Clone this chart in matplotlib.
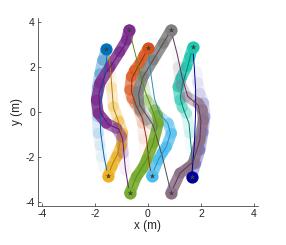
import numpy as np
import matplotlib
matplotlib.use("Agg")
import matplotlib.pyplot as plt
from matplotlib.collections import LineCollection

plt.rcParams['font.family'] = ['Liberation Sans', 'DejaVu Sans']
plt.rcParams['axes.unicode_minus'] = False

# ---- data: agent trails (thick fading) and paths (thin) ----
agent_names = ["blue", "yellow", "purple", "orange", "gray", "teal",
               "darkblue", "mauve", "green", "lightblue"]

blue_trail_x = [-1.56, -1.7, -1.81, -1.9, -1.94, -1.9, -1.87, -1.8, -1.75, -1.65]
blue_trail_y = [2.8, 2.3, 1.7, 1.1, 0.5, -0.2, -0.95, -1.5, -2.0, -2.5]
blue_path_x = [-1.5, -1.65, -1.8, -1.78, -1.65, -1.5]
blue_path_y = [2.85, 1.5, 0.3, -0.9, -2.0, -2.85]

yellow_trail_x = [-1.5, -1.35, -1.18, -1.0, -0.95, -1.1, -1.3, -1.37, -1.42, -1.45]
yellow_trail_y = [-2.83, -2.4, -1.99, -1.5, -0.95, -0.4, 0.24, 1.1, 1.7, 2.2]
yellow_path_x = [-1.5, -1.33, -1.15, -1.0, -1.1, -1.3, -1.35, -1.42, -1.5]
yellow_path_y = [-2.83, -2.3, -1.9, -1.1, -0.45, 0.2, 1.0, 2.0, 2.85]

purple_trail_x = [-0.71, -0.8, -1.06, -1.43, -1.81, -1.94, -1.87, -1.56, -1.18, -0.99, -0.93, -0.85]
purple_trail_y = [3.64, 3.2, 2.68, 2.0, 1.28, 0.53, -0.06, -0.5, -0.73, -1.1, -1.84, -2.6]
purple_path_x = [-0.71, -0.85, -1.2, -1.6, -1.85, -1.8, -1.5, -1.1, -0.95, -0.85, -0.7]
purple_path_y = [3.64, 3.0, 2.4, 1.7, 0.8, 0.0, -0.55, -0.75, -1.2, -2.5, -3.59]

orange_trail_x = [0.01, -0.15, -0.3, -0.5, -0.62, -0.68, -0.6, -0.49, -0.3, -0.2, -0.15, -0.12]
orange_trail_y = [2.83, 2.5, 2.16, 1.85, 1.57, 0.98, 0.6, 0.39, 0.0, -0.5, -1.2, -1.8]
orange_path_x = [0.01, -0.3, -0.6, -0.62, -0.45, -0.2, -0.05, 0.05, 0.14]
orange_path_y = [2.83, 2.16, 1.5, 0.9, 0.3, -0.3, -1.2, -2.3, -2.83]

gray_trail_x = [0.87, 0.58, 0.2, -0.18, -0.37, -0.35, -0.3, -0.05, 0.2, 0.4]
gray_trail_y = [3.64, 3.05, 2.31, 1.57, 0.9, 0.4, 0.09, -0.36, -0.6, -0.9]
gray_path_x = [0.87, 0.58, 0.2, -0.18, -0.35, -0.3, 0.2, 0.55, 0.87]
gray_path_y = [3.64, 3.05, 2.31, 1.57, 0.8, 0.3, -0.6, -2.0, -3.59]

teal_trail_x = [1.69, 1.58, 1.46, 1.25, 1.14, 1.21, 1.3, 1.46, 1.58, 1.62]
teal_trail_y = [2.87, 2.45, 2.01, 1.5, 1.12, 0.53, 0.2, -0.06, -0.95, -1.6]
teal_path_x = [1.69, 1.5, 1.3, 1.22, 1.35, 1.55, 1.65, 1.7]
teal_path_y = [2.87, 2.0, 1.2, 0.6, 0.1, -0.5, -1.8, -2.85]

darkblue_trail_x = [1.65, 1.8, 1.96, 2.08, 2.15, 2.1, 1.96, 1.88, 1.84]
darkblue_trail_y = [-2.87, -2.3, -1.69, -0.9, -0.21, 0.4, 0.83, 1.3, 1.8]
darkblue_path_x = [1.65, 1.75, 1.8, 1.8, 1.75, 1.69]
darkblue_path_y = [-2.87, -1.5, 0.0, 1.0, 2.0, 2.87]

mauve_trail_x = [0.87, 1.21, 1.5, 1.71, 1.96, 2.09, 2.05, 1.9, 1.46, 1.25, 1.15, 1.1]
mauve_trail_y = [-3.59, -2.72, -2.5, -2.28, -1.24, -0.36, 0.1, 0.39, 0.68, 1.2, 2.0, 2.7]
mauve_path_x = [0.87, 1.21, 1.71, 1.96, 2.0, 1.9, 1.5, 1.3, 1.1, 0.87]
mauve_path_y = [-3.59, -2.72, -2.2, -1.24, -0.4, 0.3, 0.7, 1.5, 2.6, 3.64]

green_trail_x = [-0.68, -0.43, -0.2, -0.05, 0.2, 0.39, 0.36, 0.26, -0.05, -0.18, -0.3]
green_trail_y = [-3.59, -2.87, -2.5, -2.13, -1.39, -0.5, -0.15, 0.09, 0.53, 1.27, 1.9]
green_path_x = [-0.68, -0.43, -0.05, 0.2, 0.35, 0.2, -0.1, -0.35, -0.7]
green_path_y = [-3.59, -2.87, -2.13, -1.39, -0.6, 0.0, 0.9, 2.0, 3.64]

lightblue_trail_x = [0.14, 0.39, 0.55, 0.7, 0.89, 0.77, 0.45, 0.2, 0.0]
lightblue_trail_y = [-2.83, -2.13, -1.8, -1.54, -0.95, -0.5, -0.21, 0.1, 0.6]
lightblue_path_x = [0.14, 0.39, 0.7, 0.85, 0.75, 0.45, 0.25, 0.1, 0.01]
lightblue_path_y = [-2.83, -2.13, -1.54, -0.95, -0.5, -0.1, 0.6, 1.8, 2.83]

ticks = [-4, -2, 0, 2, 4]

# ---- styles ----
styles = {
    "blue":      dict(c=(0.0, 0.447, 0.741), lc=(0.0, 0.40, 0.70), amax=0.35, hold=0.2),
    "yellow":    dict(c=(0.929, 0.694, 0.125), lc=(0.70, 0.50, 0.05), amax=0.7, hold=0.3),
    "purple":    dict(c=(0.494, 0.184, 0.556), lc=(0.38, 0.10, 0.45), amax=0.85, hold=0.6),
    "orange":    dict(c=(0.85, 0.325, 0.098), lc=(0.60, 0.18, 0.05), amax=0.7, hold=0.35),
    "gray":      dict(c=(0.5, 0.5, 0.5), lc=(0.30, 0.30, 0.30), amax=0.85, hold=0.55),
    "teal":      dict(c=(0.12, 0.78, 0.68), lc=(0.0, 0.50, 0.50), amax=0.8, hold=0.35),
    "darkblue":  dict(c=(0.0, 0.0, 0.6), lc=(0.0, 0.0, 0.55), amax=0.3, hold=0.3),
    "mauve":     dict(c=(0.55, 0.44, 0.53), lc=(0.35, 0.22, 0.35), amax=0.85, hold=0.45),
    "green":     dict(c=(0.466, 0.674, 0.188), lc=(0.35, 0.55, 0.10), amax=0.9, hold=0.5),
    "lightblue": dict(c=(0.301, 0.745, 0.933), lc=(0.15, 0.55, 0.75), amax=0.8, hold=0.4),
}

data = {n: (globals()[n + "_trail_x"], globals()[n + "_trail_y"],
            globals()[n + "_path_x"], globals()[n + "_path_y"]) for n in agent_names}

fig = plt.figure(figsize=(2.86, 2.45), dpi=100)
ax = fig.add_axes([0.132, 0.159, 0.77, 0.768])

trail_order = ["blue", "darkblue", "yellow", "purple", "orange", "teal",
               "mauve", "lightblue", "green", "gray"]
for n in trail_order:
    tx, ty, px, py = data[n]
    st = styles[n]
    pts = np.column_stack([tx, ty])
    segs = np.stack([pts[:-1], pts[1:]], axis=1)
    nseg = len(segs)
    s = (np.arange(nseg) + 0.5) / nseg
    alpha = st["amax"] * np.clip((1 - s) / (1 - st["hold"]), 0, 1) ** 1.2
    alpha = np.clip(alpha, 0.05, 1)
    cols = [(*st["c"], a) for a in alpha]
    lc = LineCollection(segs, colors=cols, linewidths=8.0, capstyle='round',
                        joinstyle='round', zorder=2)
    ax.add_collection(lc)

for n in agent_names:
    tx, ty, px, py = data[n]
    st = styles[n]
    ax.plot(px, py, color=st["lc"], lw=0.7, zorder=3)

for n in agent_names:
    tx, ty, px, py = data[n]
    st = styles[n]
    ax.plot(tx[0], ty[0], 'o', ms=8.8, color=st["c"], mec='none', zorder=4)
    ax.plot(tx[0], ty[0], '*', ms=4, color=(0.25, 0.25, 0.25), mec='none', zorder=5)

ax.set_xlim(-4.15, 4.15)
ax.set_ylim(-4.18, 4.18)
ax.set_xticks(ticks)
ax.set_yticks(ticks)
ax.set_xticklabels([str(t) for t in ticks])
ax.set_yticklabels([str(t) for t in ticks])
for sp in ["top", "right"]:
    ax.spines[sp].set_visible(False)
for sp in ["left", "bottom"]:
    ax.spines[sp].set_color((0.15, 0.15, 0.15))
    ax.spines[sp].set_linewidth(0.5)
ax.tick_params(direction='in', length=2.5, width=0.5, labelsize=7.5,
               colors=(0.15, 0.15, 0.15), pad=2)
ax.set_xlabel("x (m)", fontsize=8.5, color=(0.15, 0.15, 0.15), labelpad=1)
ax.set_ylabel("y (m)", fontsize=8.5, color=(0.15, 0.15, 0.15), labelpad=2)

fig.savefig("out.png", dpi=100)
